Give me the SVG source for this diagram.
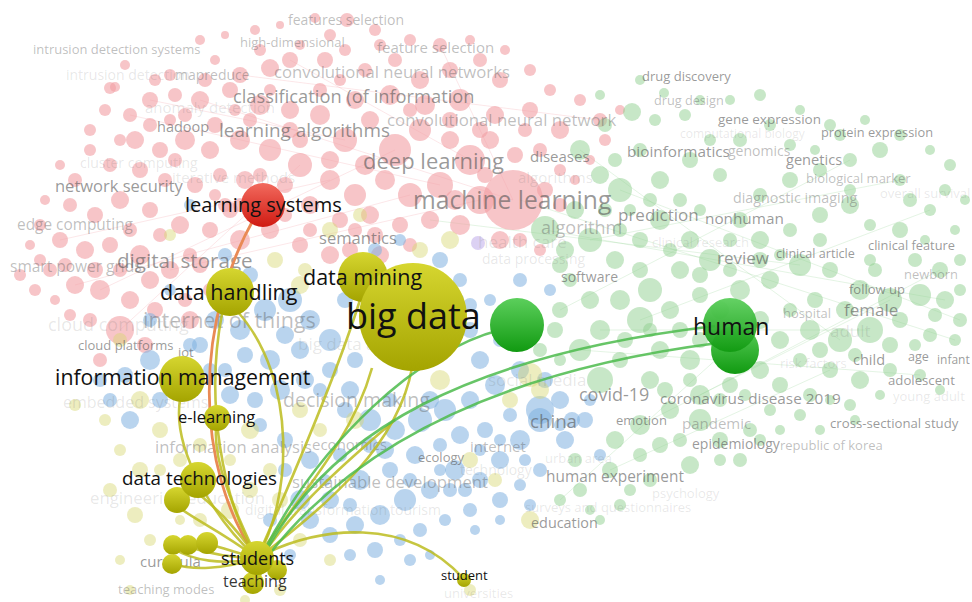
<svg xmlns="http://www.w3.org/2000/svg" width="972" height="602" viewBox="0 0 972 602">
<defs>
<style>
text{font-family:"Open Sans","Noto Sans","Liberation Sans",sans-serif}
.p circle{fill:#f29ea4;fill-opacity:.6}
.g circle{fill:#8fd08f;fill-opacity:.5}
.b circle{fill:#7fb0e0;fill-opacity:.55}
.y circle{fill:#d8d870;fill-opacity:.45}
.fe line{stroke-width:.7;stroke-opacity:.35}
.fp line{stroke:#f29ea4}.fg line{stroke:#8fd08f}
.t1{fill:#555;fill-opacity:.6}
.t2{fill:#555;fill-opacity:.38}
.t3{fill:#555;fill-opacity:.14}
.k{fill:#111}
.ly{fill:none;stroke:#bcbc1e;stroke-width:2.6;stroke-opacity:.85}
.lg{fill:none;stroke:#4cbb4c;stroke-width:2.6;stroke-opacity:.85}
.lr{fill:none;stroke:#e98a55;stroke-width:2.8}
.ny{fill:url(#gy)}.ng{fill:url(#gg)}.nr{fill:url(#gr)}
</style>
<linearGradient id="gy" x1="0" y1="0" x2="0" y2="1"><stop offset="0" stop-color="#d6d630"/><stop offset="1" stop-color="#a4a400"/></linearGradient>
<linearGradient id="gg" x1="0" y1="0" x2="0" y2="1"><stop offset="0" stop-color="#5ccf5c"/><stop offset="1" stop-color="#119a11"/></linearGradient>
<linearGradient id="gr" x1="0" y1="0" x2="0" y2="1"><stop offset="0" stop-color="#f26a5e"/><stop offset="1" stop-color="#d01a12"/></linearGradient>
</defs>
<rect width="972" height="602" fill="#fff"/>

<g id="faint-edges" class="fe">
<g class="fp">
<line x1="120" y1="330" x2="300" y2="165"/><line x1="75" y1="285" x2="410" y2="195"/><line x1="130" y1="115" x2="440" y2="185"/>
<line x1="200" y1="100" x2="513" y2="200"/><line x1="100" y1="290" x2="395" y2="150"/><line x1="290" y1="60" x2="470" y2="160"/>
<line x1="60" y1="240" x2="330" y2="180"/><line x1="150" y1="100" x2="345" y2="140"/><line x1="440" y1="45" x2="513" y2="200"/>
<line x1="240" y1="75" x2="600" y2="120"/><line x1="170" y1="270" x2="480" y2="200"/>
</g>
<g class="fg">
<line x1="545" y1="230" x2="945" y2="300"/><line x1="580" y1="150" x2="840" y2="340"/><line x1="620" y1="190" x2="960" y2="320"/>
<line x1="590" y1="240" x2="900" y2="180"/><line x1="640" y1="320" x2="930" y2="210"/><line x1="600" y1="330" x2="870" y2="330"/>
<line x1="560" y1="310" x2="850" y2="160"/><line x1="700" y1="395" x2="940" y2="270"/><line x1="640" y1="425" x2="890" y2="300"/>
<line x1="520" y1="200" x2="955" y2="340"/><line x1="580" y1="350" x2="920" y2="375"/><line x1="430" y1="220" x2="800" y2="265"/>
<line x1="560" y1="500" x2="760" y2="320"/><line x1="610" y1="470" x2="830" y2="370"/>
</g>
</g>

<g id="cluster-red" class="p">
<circle cx="347" cy="20" r="7"/><circle cx="330" cy="35" r="6"/><circle cx="300" cy="45" r="5"/><circle cx="290" cy="60" r="8"/><circle cx="260" cy="50" r="6"/>
<circle cx="270" cy="68" r="9"/><circle cx="240" cy="75" r="8"/><circle cx="215" cy="60" r="5"/><circle cx="230" cy="90" r="8"/><circle cx="200" cy="100" r="9"/>
<circle cx="175" cy="95" r="7"/><circle cx="150" cy="100" r="8"/><circle cx="130" cy="115" r="7"/><circle cx="110" cy="88" r="6"/><circle cx="135" cy="140" r="9"/>
<circle cx="160" cy="150" r="8"/><circle cx="185" cy="140" r="10"/><circle cx="210" cy="150" r="9"/><circle cx="240" cy="140" r="10"/><circle cx="270" cy="150" r="11"/>
<circle cx="300" cy="165" r="12"/><circle cx="330" cy="180" r="10"/><circle cx="355" cy="195" r="11"/><circle cx="385" cy="180" r="10"/><circle cx="410" cy="195" r="12"/>
<circle cx="440" cy="185" r="13"/><circle cx="470" cy="160" r="15"/><circle cx="395" cy="150" r="16"/><circle cx="345" cy="140" r="12"/><circle cx="320" cy="115" r="10"/>
<circle cx="290" cy="110" r="9"/><circle cx="260" cy="105" r="10"/><circle cx="355" cy="100" r="9"/><circle cx="390" cy="95" r="10"/><circle cx="420" cy="80" r="9"/>
<circle cx="450" cy="70" r="8"/><circle cx="480" cy="60" r="7"/><circle cx="500" cy="80" r="8"/><circle cx="440" cy="45" r="7"/><circle cx="410" cy="40" r="6"/>
<circle cx="460" cy="100" r="11"/><circle cx="495" cy="115" r="9"/><circle cx="530" cy="110" r="8"/><circle cx="560" cy="130" r="9"/><circle cx="540" cy="150" r="7"/>
<circle cx="600" cy="120" r="7"/><circle cx="620" cy="110" r="5"/><circle cx="513" cy="200" r="30"/><circle cx="480" cy="200" r="14"/><circle cx="460" cy="225" r="10"/>
<circle cx="430" cy="220" r="9"/><circle cx="400" cy="225" r="8"/><circle cx="370" cy="215" r="9"/><circle cx="340" cy="220" r="8"/><circle cx="310" cy="205" r="9"/>
<circle cx="285" cy="185" r="8"/><circle cx="245" cy="180" r="9"/><circle cx="220" cy="175" r="7"/><circle cx="195" cy="185" r="8"/><circle cx="165" cy="180" r="7"/>
<circle cx="140" cy="170" r="8"/><circle cx="110" cy="165" r="7"/><circle cx="90" cy="150" r="6"/><circle cx="120" cy="200" r="9"/><circle cx="150" cy="210" r="8"/>
<circle cx="180" cy="225" r="9"/><circle cx="210" cy="230" r="8"/><circle cx="240" cy="240" r="10"/><circle cx="270" cy="230" r="9"/><circle cx="300" cy="245" r="8"/>
<circle cx="330" cy="255" r="9"/><circle cx="95" cy="215" r="8"/><circle cx="70" cy="205" r="7"/><circle cx="60" cy="240" r="8"/><circle cx="85" cy="250" r="9"/>
<circle cx="110" cy="245" r="8"/><circle cx="140" cy="255" r="10"/><circle cx="170" cy="270" r="9"/><circle cx="200" cy="265" r="8"/><circle cx="50" cy="270" r="7"/>
<circle cx="75" cy="285" r="9"/><circle cx="100" cy="290" r="10"/><circle cx="130" cy="300" r="9"/><circle cx="155" cy="310" r="8"/><circle cx="190" cy="320" r="9"/>
<circle cx="120" cy="330" r="14"/><circle cx="90" cy="320" r="7"/><circle cx="70" cy="315" r="6"/><circle cx="145" cy="345" r="8"/><circle cx="100" cy="360" r="7"/>
<circle cx="40" cy="260" r="6"/><circle cx="30" cy="245" r="5"/><circle cx="20" cy="275" r="6"/><circle cx="105" cy="110" r="6"/><circle cx="125" cy="65" r="5"/>
<circle cx="170" cy="75" r="6"/><circle cx="365" cy="70" r="7"/><circle cx="325" cy="60" r="8"/><circle cx="550" cy="90" r="6"/><circle cx="580" cy="100" r="6"/>
<circle cx="560" cy="170" r="6"/><circle cx="545" cy="190" r="8"/><circle cx="590" cy="160" r="5"/><circle cx="350" cy="250" r="8"/><circle cx="380" cy="255" r="9"/>
<circle cx="410" cy="245" r="7"/><circle cx="250" cy="120" r="7"/><circle cx="270" cy="90" r="6"/><circle cx="320" cy="90" r="7"/><circle cx="115" cy="87" r="5"/>
<circle cx="185" cy="115" r="7"/><circle cx="215" cy="125" r="8"/><circle cx="370" cy="120" r="9"/><circle cx="420" cy="130" r="11"/><circle cx="450" cy="140" r="9"/>
<circle cx="225" cy="205" r="7"/><circle cx="160" cy="235" r="7"/><circle cx="120" cy="270" r="7"/><circle cx="170" cy="120" r="6"/><circle cx="480" cy="130" r="8"/>
<circle cx="200" cy="40" r="5"/><circle cx="225" cy="35" r="4"/><circle cx="255" cy="30" r="5"/><circle cx="280" cy="25" r="4"/><circle cx="315" cy="18" r="5"/>
<circle cx="375" cy="30" r="6"/><circle cx="395" cy="60" r="7"/><circle cx="345" cy="50" r="6"/><circle cx="205" cy="80" r="7"/><circle cx="155" cy="80" r="6"/>
<circle cx="90" cy="130" r="6"/><circle cx="75" cy="180" r="7"/><circle cx="45" cy="200" r="5"/><circle cx="40" cy="225" r="6"/><circle cx="65" cy="265" r="7"/>
<circle cx="35" cy="290" r="6"/><circle cx="55" cy="300" r="5"/><circle cx="150" cy="280" r="9"/><circle cx="210" cy="290" r="7"/><circle cx="230" cy="210" r="8"/>
<circle cx="190" cy="255" r="7"/><circle cx="260" cy="175" r="7"/><circle cx="290" cy="130" r="8"/><circle cx="330" cy="160" r="9"/><circle cx="365" cy="165" r="10"/>
<circle cx="375" cy="235" r="8"/><circle cx="425" cy="105" r="10"/><circle cx="450" cy="120" r="8"/><circle cx="410" cy="110" r="7"/><circle cx="490" cy="140" r="9"/>
<circle cx="515" cy="155" r="8"/><circle cx="500" cy="240" r="9"/><circle cx="520" cy="240" r="7"/><circle cx="540" cy="250" r="6"/><circle cx="285" cy="215" r="7"/>
<circle cx="310" cy="230" r="7"/><circle cx="240" cy="205" r="7"/><circle cx="215" cy="195" r="6"/><circle cx="175" cy="160" r="7"/><circle cx="150" cy="125" r="7"/>
<circle cx="120" cy="140" r="6"/><circle cx="60" cy="165" r="5"/><circle cx="95" cy="270" r="8"/><circle cx="130" cy="230" r="7"/><circle cx="185" cy="300" r="7"/>
<circle cx="560" cy="205" r="7"/><circle cx="575" cy="180" r="5"/><circle cx="605" cy="140" r="6"/><circle cx="525" cy="130" r="7"/><circle cx="340" cy="80" r="6"/>
<circle cx="380" cy="45" r="6"/><circle cx="505" cy="50" r="5"/><circle cx="530" cy="70" r="6"/><circle cx="470" cy="40" r="5"/><circle cx="235" cy="110" r="6"/>
<circle cx="300" cy="140" r="8"/><circle cx="355" cy="230" r="7"/><circle cx="455" cy="200" r="10"/><circle cx="485" cy="175" r="8"/>
</g>

<g id="cluster-green" class="g">
<circle cx="640" cy="80" r="5"/><circle cx="664" cy="93" r="5"/><circle cx="632" cy="112" r="9"/><circle cx="605" cy="125" r="7"/><circle cx="580" cy="150" r="10"/>
<circle cx="600" cy="175" r="9"/><circle cx="620" cy="190" r="12"/><circle cx="575" cy="210" r="9"/><circle cx="545" cy="230" r="14"/><circle cx="590" cy="240" r="12"/>
<circle cx="615" cy="260" r="9"/><circle cx="640" cy="240" r="8"/><circle cx="660" cy="220" r="10"/><circle cx="690" cy="240" r="9"/><circle cx="710" cy="260" r="11"/>
<circle cx="680" cy="270" r="9"/><circle cx="650" cy="290" r="12"/><circle cx="620" cy="300" r="10"/><circle cx="590" cy="300" r="9"/><circle cx="560" cy="310" r="8"/>
<circle cx="600" cy="330" r="10"/><circle cx="640" cy="320" r="13"/><circle cx="670" cy="310" r="9"/><circle cx="700" cy="295" r="8"/><circle cx="740" cy="290" r="10"/>
<circle cx="770" cy="280" r="9"/><circle cx="800" cy="265" r="11"/><circle cx="830" cy="270" r="8"/><circle cx="860" cy="290" r="10"/><circle cx="890" cy="300" r="12"/>
<circle cx="920" cy="295" r="11"/><circle cx="945" cy="300" r="9"/><circle cx="960" cy="320" r="7"/><circle cx="940" cy="270" r="8"/><circle cx="915" cy="260" r="7"/>
<circle cx="900" cy="230" r="8"/><circle cx="870" cy="225" r="6"/><circle cx="850" cy="205" r="9"/><circle cx="820" cy="215" r="8"/><circle cx="790" cy="230" r="7"/>
<circle cx="760" cy="240" r="9"/><circle cx="740" cy="220" r="8"/><circle cx="760" cy="195" r="7"/><circle cx="790" cy="180" r="8"/><circle cx="820" cy="170" r="7"/>
<circle cx="850" cy="160" r="7"/><circle cx="880" cy="150" r="8"/><circle cx="900" cy="180" r="6"/><circle cx="910" cy="200" r="7"/><circle cx="930" cy="210" r="6"/>
<circle cx="950" cy="165" r="6"/><circle cx="955" cy="230" r="5"/><circle cx="830" cy="125" r="6"/><circle cx="800" cy="110" r="5"/><circle cx="770" cy="125" r="6"/>
<circle cx="740" cy="140" r="7"/><circle cx="710" cy="140" r="6"/><circle cx="690" cy="160" r="8"/><circle cx="720" cy="175" r="7"/><circle cx="660" cy="180" r="9"/>
<circle cx="640" cy="150" r="7"/><circle cx="780" cy="340" r="9"/><circle cx="810" cy="330" r="10"/><circle cx="840" cy="340" r="12"/><circle cx="870" cy="330" r="13"/>
<circle cx="900" cy="320" r="8"/><circle cx="930" cy="335" r="7"/><circle cx="955" cy="340" r="6"/><circle cx="800" cy="360" r="7"/><circle cx="830" cy="370" r="8"/>
<circle cx="860" cy="380" r="9"/><circle cx="890" cy="370" r="7"/><circle cx="920" cy="375" r="6"/><circle cx="940" cy="390" r="5"/><circle cx="780" cy="385" r="8"/>
<circle cx="810" cy="395" r="7"/><circle cx="760" cy="370" r="9"/><circle cx="730" cy="385" r="8"/><circle cx="700" cy="395" r="10"/><circle cx="670" cy="410" r="9"/>
<circle cx="640" cy="425" r="10"/><circle cx="615" cy="440" r="9"/><circle cx="660" cy="445" r="8"/><circle cx="700" cy="420" r="11"/><circle cx="720" cy="440" r="8"/>
<circle cx="740" cy="460" r="7"/><circle cx="690" cy="465" r="9"/><circle cx="650" cy="480" r="7"/><circle cx="610" cy="470" r="8"/><circle cx="580" cy="490" r="7"/>
<circle cx="560" cy="500" r="6"/><circle cx="620" cy="505" r="6"/><circle cx="600" cy="520" r="5"/><circle cx="770" cy="410" r="6"/><circle cx="750" cy="430" r="7"/>
<circle cx="800" cy="415" r="6"/><circle cx="830" cy="400" r="5"/><circle cx="850" cy="405" r="6"/><circle cx="880" cy="395" r="5"/><circle cx="690" cy="360" r="10"/>
<circle cx="660" cy="350" r="9"/><circle cx="620" cy="360" r="8"/><circle cx="580" cy="350" r="11"/><circle cx="555" cy="330" r="8"/><circle cx="540" cy="350" r="7"/>
<circle cx="700" cy="340" r="8"/><circle cx="760" cy="320" r="9"/><circle cx="680" cy="330" r="8"/><circle cx="600" cy="380" r="13"/><circle cx="650" cy="380" r="9"/>
<circle cx="560" cy="265" r="8"/><circle cx="680" cy="200" r="7"/><circle cx="870" cy="260" r="6"/><circle cx="925" cy="240" r="5"/><circle cx="850" cy="190" r="6"/>
<circle cx="960" cy="290" r="6"/><circle cx="620" cy="230" r="7"/><circle cx="720" cy="310" r="9"/>
<circle cx="600" cy="95" r="5"/><circle cx="615" cy="160" r="7"/><circle cx="655" cy="120" r="6"/><circle cx="685" cy="115" r="6"/><circle cx="700" cy="100" r="5"/>
<circle cx="730" cy="100" r="5"/><circle cx="760" cy="95" r="6"/><circle cx="790" cy="145" r="6"/><circle cx="815" cy="150" r="5"/><circle cx="840" cy="135" r="6"/>
<circle cx="865" cy="120" r="5"/><circle cx="900" cy="135" r="6"/><circle cx="930" cy="150" r="5"/><circle cx="945" cy="190" r="6"/><circle cx="965" cy="200" r="5"/>
<circle cx="960" cy="260" r="6"/><circle cx="935" cy="315" r="7"/><circle cx="915" cy="345" r="6"/><circle cx="890" cy="345" r="8"/><circle cx="855" cy="355" r="7"/>
<circle cx="820" cy="350" r="8"/><circle cx="790" cy="310" r="7"/><circle cx="815" cy="300" r="8"/><circle cx="845" cy="310" r="9"/><circle cx="875" cy="270" r="7"/>
<circle cx="820" cy="240" r="7"/><circle cx="780" cy="255" r="6"/><circle cx="730" cy="240" r="7"/><circle cx="700" cy="210" r="6"/><circle cx="650" cy="200" r="7"/>
<circle cx="630" cy="210" r="6"/><circle cx="605" cy="210" r="7"/><circle cx="565" cy="250" r="9"/><circle cx="570" cy="280" r="7"/><circle cx="640" cy="270" r="8"/>
<circle cx="670" cy="250" r="7"/><circle cx="700" cy="275" r="8"/><circle cx="730" cy="270" r="7"/><circle cx="760" cy="260" r="8"/><circle cx="625" cy="340" r="8"/>
<circle cx="650" cy="330" r="7"/><circle cx="665" cy="390" r="8"/><circle cx="690" cy="380" r="7"/><circle cx="720" cy="400" r="7"/><circle cx="745" cy="395" r="6"/>
<circle cx="760" cy="440" r="6"/><circle cx="720" cy="460" r="6"/><circle cx="680" cy="440" r="7"/><circle cx="640" cy="455" r="7"/><circle cx="630" cy="490" r="6"/>
<circle cx="590" cy="510" r="5"/><circle cx="575" cy="460" r="7"/><circle cx="560" cy="360" r="6"/><circle cx="780" cy="430" r="5"/><circle cx="820" cy="430" r="5"/>
<circle cx="855" cy="420" r="5"/>
</g>

<g id="cluster-blue" class="b">
<circle cx="190" cy="205" r="6"/><circle cx="225" cy="255" r="7"/><circle cx="250" cy="275" r="8"/><circle cx="215" cy="320" r="9"/><circle cx="240" cy="330" r="10"/>
<circle cx="265" cy="310" r="11"/><circle cx="290" cy="300" r="12"/><circle cx="310" cy="320" r="10"/><circle cx="330" cy="340" r="11"/><circle cx="300" cy="350" r="9"/>
<circle cx="270" cy="360" r="10"/><circle cx="245" cy="355" r="8"/><circle cx="150" cy="360" r="10"/><circle cx="125" cy="375" r="8"/><circle cx="110" cy="400" r="7"/>
<circle cx="130" cy="420" r="9"/><circle cx="100" cy="380" r="7"/><circle cx="160" cy="400" r="8"/><circle cx="210" cy="370" r="7"/><circle cx="230" cy="395" r="9"/>
<circle cx="255" cy="400" r="8"/><circle cx="280" cy="390" r="10"/><circle cx="305" cy="380" r="9"/><circle cx="330" cy="370" r="8"/><circle cx="350" cy="390" r="9"/>
<circle cx="370" cy="420" r="11"/><circle cx="395" cy="430" r="10"/><circle cx="420" cy="420" r="12"/><circle cx="445" cy="410" r="11"/><circle cx="470" cy="400" r="9"/>
<circle cx="495" cy="385" r="10"/><circle cx="520" cy="370" r="9"/><circle cx="545" cy="380" r="8"/><circle cx="560" cy="400" r="9"/><circle cx="540" cy="420" r="12"/>
<circle cx="520" cy="440" r="10"/><circle cx="500" cy="460" r="9"/><circle cx="480" cy="480" r="8"/><circle cx="455" cy="470" r="10"/><circle cx="430" cy="490" r="9"/>
<circle cx="405" cy="500" r="11"/><circle cx="380" cy="515" r="10"/><circle cx="355" cy="525" r="9"/><circle cx="330" cy="535" r="8"/><circle cx="310" cy="520" r="9"/>
<circle cx="300" cy="500" r="10"/><circle cx="330" cy="500" r="9"/><circle cx="360" cy="480" r="10"/><circle cx="390" cy="470" r="8"/><circle cx="415" cy="455" r="9"/>
<circle cx="440" cy="445" r="7"/><circle cx="460" cy="435" r="9"/><circle cx="485" cy="430" r="8"/><circle cx="510" cy="415" r="7"/><circle cx="565" cy="440" r="9"/>
<circle cx="585" cy="420" r="8"/><circle cx="600" cy="455" r="6"/><circle cx="540" cy="470" r="7"/><circle cx="520" cy="485" r="6"/><circle cx="500" cy="500" r="8"/>
<circle cx="470" cy="510" r="7"/><circle cx="445" cy="520" r="6"/><circle cx="420" cy="530" r="7"/><circle cx="400" cy="540" r="6"/><circle cx="375" cy="550" r="8"/>
<circle cx="350" cy="555" r="6"/><circle cx="260" cy="425" r="7"/><circle cx="285" cy="440" r="8"/><circle cx="310" cy="460" r="9"/><circle cx="340" cy="455" r="7"/>
<circle cx="370" cy="445" r="8"/><circle cx="390" cy="400" r="7"/><circle cx="345" cy="300" r="8"/><circle cx="375" cy="250" r="7"/><circle cx="400" cy="240" r="6"/>
<circle cx="440" cy="260" r="8"/><circle cx="460" cy="280" r="7"/><circle cx="455" cy="300" r="9"/><circle cx="470" cy="330" r="8"/><circle cx="480" cy="360" r="9"/>
<circle cx="500" cy="340" r="7"/><circle cx="550" cy="290" r="6"/><circle cx="520" cy="280" r="7"/><circle cx="170" cy="290" r="6"/><circle cx="150" cy="320" r="7"/>
<circle cx="540" cy="410" r="14"/><circle cx="572" cy="420" r="8"/><circle cx="590" cy="400" r="6"/><circle cx="530" cy="505" r="6"/><circle cx="190" cy="345" r="7"/>
<circle cx="200" cy="345" r="8"/><circle cx="225" cy="370" r="7"/><circle cx="285" cy="335" r="9"/><circle cx="320" cy="390" r="7"/><circle cx="345" cy="410" r="8"/>
<circle cx="385" cy="450" r="9"/><circle cx="410" cy="480" r="7"/><circle cx="440" cy="470" r="6"/><circle cx="465" cy="490" r="7"/><circle cx="350" cy="505" r="7"/>
<circle cx="325" cy="480" r="6"/><circle cx="285" cy="470" r="7"/><circle cx="270" cy="520" r="7"/><circle cx="290" cy="555" r="6"/><circle cx="380" cy="580" r="5"/>
<circle cx="410" cy="560" r="6"/><circle cx="430" cy="555" r="5"/><circle cx="560" cy="425" r="6"/><circle cx="525" cy="460" r="6"/><circle cx="500" cy="440" r="6"/>
<circle cx="480" cy="450" r="6"/><circle cx="450" cy="490" r="7"/><circle cx="475" cy="530" r="5"/><circle cx="500" cy="520" r="5"/><circle cx="355" cy="360" r="8"/>
<circle cx="470" cy="305" r="7"/><circle cx="490" cy="300" r="6"/><circle cx="430" cy="400" r="9"/>
</g>

<g id="cluster-yellow" class="y">
<circle cx="120" cy="340" r="7"/><circle cx="140" cy="400" r="9"/><circle cx="160" cy="430" r="8"/><circle cx="180" cy="460" r="7"/><circle cx="140" cy="470" r="8"/>
<circle cx="120" cy="450" r="6"/><circle cx="110" cy="490" r="7"/><circle cx="135" cy="515" r="8"/><circle cx="150" cy="540" r="6"/><circle cx="120" cy="560" r="5"/>
<circle cx="200" cy="520" r="7"/><circle cx="230" cy="510" r="9"/><circle cx="250" cy="490" r="8"/><circle cx="270" cy="470" r="7"/><circle cx="300" cy="410" r="8"/>
<circle cx="320" cy="430" r="7"/><circle cx="250" cy="430" r="9"/><circle cx="230" cy="460" r="6"/><circle cx="280" cy="500" r="8"/><circle cx="300" cy="540" r="7"/>
<circle cx="330" cy="560" r="6"/><circle cx="280" cy="590" r="6"/><circle cx="245" cy="600" r="5"/><circle cx="355" cy="420" r="9"/><circle cx="440" cy="380" r="10"/>
<circle cx="470" cy="460" r="8"/><circle cx="495" cy="480" r="7"/><circle cx="530" cy="520" r="9"/><circle cx="470" cy="590" r="6"/><circle cx="300" cy="285" r="9"/>
<circle cx="330" cy="230" r="8"/><circle cx="360" cy="215" r="7"/><circle cx="420" cy="250" r="8"/><circle cx="450" cy="240" r="9"/><circle cx="380" cy="280" r="7"/>
<circle cx="275" cy="260" r="8"/><circle cx="305" cy="270" r="7"/><circle cx="160" cy="470" r="6"/><circle cx="200" cy="445" r="7"/><circle cx="180" cy="520" r="5"/>
<circle cx="105" cy="420" r="6"/><circle cx="510" cy="400" r="8"/><circle cx="540" cy="390" r="9"/><circle cx="530" cy="375" r="12"/><circle cx="170" cy="235" r="6"/>
<circle cx="75" cy="405" r="6"/><circle cx="130" cy="590" r="5"/>
</g>
<circle cx="478" cy="243" r="7" fill="#b9a4e8" fill-opacity=".5"/>

<g id="faded-labels">
<text x="288" y="25" font-size="14" class="t2">features selection</text>
<text x="33" y="54" font-size="13" class="t2">intrusion detection systems</text>
<text x="240" y="47" font-size="13" class="t2">high-dimensional</text>
<text x="377" y="53" font-size="15" class="t2">feature selection</text>
<text x="66" y="80" font-size="14" class="t3">intrusion detection</text>
<text x="175" y="80" font-size="14" class="t2">mapreduce</text>
<text x="274" y="78" font-size="16.7" class="t2">convolutional neural networks</text>
<text x="233" y="103" font-size="18.3" class="t1">classification (of information</text>
<text x="145" y="113" font-size="15" class="t3">anomaly detection</text>
<text x="157" y="132" font-size="14.5" class="t1">hadoop</text>
<text x="219" y="137" font-size="18.9" class="t1">learning algorithms</text>
<text x="387" y="126" font-size="16.8" class="t2">convolutional neural network</text>
<text x="80" y="168" font-size="14" class="t3">cluster computing</text>
<text x="363" y="169" font-size="22" class="t1">deep learning</text>
<text x="172" y="183" font-size="15" class="t3">iterative methods</text>
<text x="55" y="192" font-size="16.5" class="t1">network security</text>
<text x="413" y="209" font-size="24.6" class="t1">machine learning</text>
<text x="17" y="230" font-size="15.4" class="t2">edge computing</text>
<text x="319" y="244" font-size="16.6" class="t1">semantics</text>
<text x="117" y="268" font-size="20.6" class="t1">digital storage</text>
<text x="10" y="272" font-size="15.5" class="t2">smart power grids</text>
<text x="48" y="331" font-size="18" class="t3">cloud computing</text>
<text x="143" y="328" font-size="21.5" class="t2">internet of things</text>
<text x="78" y="350" font-size="13" class="t1">cloud platforms</text>
<text x="178" y="357" font-size="13" class="t1">iot</text>
<text x="63" y="408" font-size="16" class="t3">embedded systems</text>
<text x="283" y="407" font-size="19.5" class="t2">decision making</text>
<text x="298" y="350" font-size="17" class="t3">big data analytics</text>
<text x="155" y="453" font-size="16.6" class="t2">information analysis</text>
<text x="312" y="450" font-size="15" class="t2">economics</text>
<text x="418" y="462" font-size="13" class="t1">ecology</text>
<text x="470" y="452" font-size="15" class="t2">internet</text>
<text x="460" y="475" font-size="14" class="t3">technology</text>
<text x="292" y="488" font-size="16.7" class="t2">sustainable development</text>
<text x="90" y="504" font-size="16.8" class="t3">engineering education</text>
<text x="245" y="515" font-size="14" class="t3">digital transformation</text>
<text x="390" y="515" font-size="14" class="t3">tourism</text>
<text x="140" y="567" font-size="15" class="t1">curricula</text>
<text x="118" y="594" font-size="13" class="t2">teaching modes</text>
<text x="444" y="598" font-size="13" class="t3">universities</text>
<text x="531" y="528" font-size="14.4" class="t1">education</text>
<text x="525" y="512" font-size="13" class="t3">surveys and questionnaires</text>
<text x="546" y="482" font-size="15.4" class="t1">human experiment</text>
<text x="545" y="463" font-size="13" class="t3">urban area</text>
<text x="652" y="498" font-size="13" class="t3">psychology</text>
<text x="530" y="428" font-size="18.7" class="t1">china</text>
<text x="616" y="425" font-size="13" class="t1">emotion</text>
<text x="682" y="429" font-size="15" class="t2">pandemic</text>
<text x="692" y="449" font-size="14" class="t1">epidemiology</text>
<text x="780" y="450" font-size="13" class="t2">republic of korea</text>
<text x="579" y="401" font-size="18" class="t1">covid-19</text>
<text x="660" y="404" font-size="15.3" class="t1">coronavirus disease 2019</text>
<text x="488" y="386" font-size="17" class="t3">social media</text>
<text x="830" y="428" font-size="13.2" class="t1">cross-sectional study</text>
<text x="888" y="385" font-size="13.2" class="t1">adolescent</text>
<text x="893" y="401" font-size="13" class="t3">young adult</text>
<text x="780" y="368" font-size="13" class="t3">risk factors</text>
<text x="853" y="365" font-size="14.5" class="t1">child</text>
<text x="908" y="361" font-size="12.6" class="t1">age</text>
<text x="937" y="364" font-size="12" class="t1">infant</text>
<text x="783" y="318" font-size="12.9" class="t2">hospital</text>
<text x="844" y="316" font-size="17" class="t1">female</text>
<text x="830" y="337" font-size="17" class="t3">adult</text>
<text x="849" y="294" font-size="13" class="t1">follow up</text>
<text x="904" y="279" font-size="12.9" class="t2">newborn</text>
<text x="776" y="258" font-size="12.6" class="t1">clinical article</text>
<text x="868" y="250" font-size="12.8" class="t1">clinical feature</text>
<text x="717" y="264" font-size="17" class="t1">review</text>
<text x="561" y="282" font-size="14" class="t1">software</text>
<text x="482" y="264" font-size="14" class="t3">data processing</text>
<text x="478" y="248" font-size="17" class="t3">health care</text>
<text x="541" y="234" font-size="18" class="t2">algorithm</text>
<text x="618" y="221" font-size="17" class="t1">prediction</text>
<text x="705" y="224" font-size="15.3" class="t1">nonhuman</text>
<text x="652" y="247" font-size="13" class="t3">clinical research</text>
<text x="733" y="203" font-size="14.3" class="t2">diagnostic imaging</text>
<text x="880" y="198" font-size="13" class="t3">overall survival</text>
<text x="806" y="183" font-size="13" class="t2">biological marker</text>
<text x="786" y="165" font-size="14.6" class="t1">genetics</text>
<text x="518" y="183" font-size="15" class="t3">algorithms</text>
<text x="627" y="157" font-size="15.3" class="t1">bioinformatics</text>
<text x="728" y="156" font-size="14" class="t2">genomics</text>
<text x="530" y="162" font-size="15" class="t1">diseases</text>
<text x="718" y="124" font-size="13.5" class="t1">gene expression</text>
<text x="680" y="138" font-size="12" class="t3">computational biology</text>
<text x="821" y="137" font-size="12.8" class="t1">protein expression</text>
<text x="642" y="81" font-size="13" class="t1">drug discovery</text>
<text x="654" y="105" font-size="12.7" class="t2">drug design</text>
</g>

<g id="connectors">
<path class="lr" d="M262,205 C190,320 195,470 257,558"/>
<path class="ly" d="M257,558 C215,520 172,450 180,400"/>
<path class="ly" d="M257,558 C292,500 298,380 238,312"/>
<path class="ly" d="M257,558 C222,500 205,400 222,314"/>
<path class="ly" d="M257,558 C232,505 214,462 216,430"/>
<path class="ly" d="M257,558 C232,522 212,505 200,495"/>
<path class="ly" d="M257,558 C222,532 192,518 180,508"/>
<path class="ly" d="M257,558 C232,552 218,546 208,544"/>
<path class="ly" d="M257,558 C228,558 204,552 189,547"/>
<path class="ly" d="M257,558 C222,566 192,560 174,549"/>
<path class="ly" d="M257,558 C222,570 192,570 173,564"/>
<path class="ly" d="M257,558 C265,570 260,578 254,583"/>
<path class="ly" d="M257,558 C300,495 352,440 372,368"/>
<path class="ly" d="M260,557 C330,502 398,445 412,368"/>
<path class="ly" d="M258,556 C296,470 338,370 360,300"/>
<path class="ly" d="M262,556 C300,500 360,450 395,420"/>
<path class="ly" d="M266,553 C320,528 405,515 463,578"/>
<path class="lg" d="M262,555 C320,440 420,350 500,330"/>
<path class="lg" d="M264,555 C330,430 470,355 715,326"/>
<path class="lg" d="M268,556 C350,450 490,372 718,343"/>
</g>

<g id="node-learning-systems"><circle class="nr" cx="263" cy="205" r="22"/></g>
<g id="node-data-handling"><circle class="ny" cx="230" cy="292" r="24"/></g>
<g id="node-information-management"><circle class="ny" cx="182" cy="379" r="23"/></g>
<g id="node-e-learning"><circle class="ny" cx="217" cy="418" r="13"/></g>
<g id="node-data-technologies"><circle class="ny" cx="177" cy="500" r="13"/><circle class="ny" cx="198" cy="480" r="18"/></g>
<g id="node-education"><circle class="ny" cx="173" cy="545" r="10"/><circle class="ny" cx="188" cy="545" r="10"/><circle class="ny" cx="207" cy="543" r="11"/><circle class="ny" cx="172" cy="564" r="10"/></g>
<g id="node-teaching"><circle class="ny" cx="253" cy="583" r="11"/><circle class="ny" cx="277" cy="570" r="10"/></g>
<g id="node-students"><circle class="ny" cx="257" cy="558" r="17"/></g>
<g id="node-student"><circle class="ny" cx="464" cy="580" r="7"/></g>
<g id="node-data-mining"><circle class="ny" cx="363" cy="277" r="25"/></g>
<g id="node-big-data"><circle class="ny" cx="413" cy="317" r="54"/></g>
<g id="node-green"><circle class="ng" cx="517" cy="325" r="27"/></g>
<g id="node-human"><circle class="ng" cx="735" cy="350" r="24"/><circle class="ng" cx="730" cy="325" r="27" fill-opacity=".95"/></g>

<g id="labels">
<text x="185" y="212" font-size="20" class="k">learning systems</text>
<text x="160" y="300" font-size="21.5" class="k">data handling</text>
<text x="303" y="285" font-size="21.5" class="k">data mining</text>
<text x="346" y="329" font-size="36" class="k">big data</text>
<text x="693" y="335" font-size="23" class="k">human</text>
<text x="55" y="385" font-size="21.3" class="k">information management</text>
<text x="178" y="423" font-size="16.5" class="k">e-learning</text>
<text x="122" y="485" font-size="18.8" class="k">data technologies</text>
<text x="221" y="565" font-size="18" class="k">students</text>
<text x="223" y="587" font-size="16" class="k" fill-opacity=".85">teaching</text>
<text x="441" y="580" font-size="13" class="k">student</text>
</g>
</svg>
